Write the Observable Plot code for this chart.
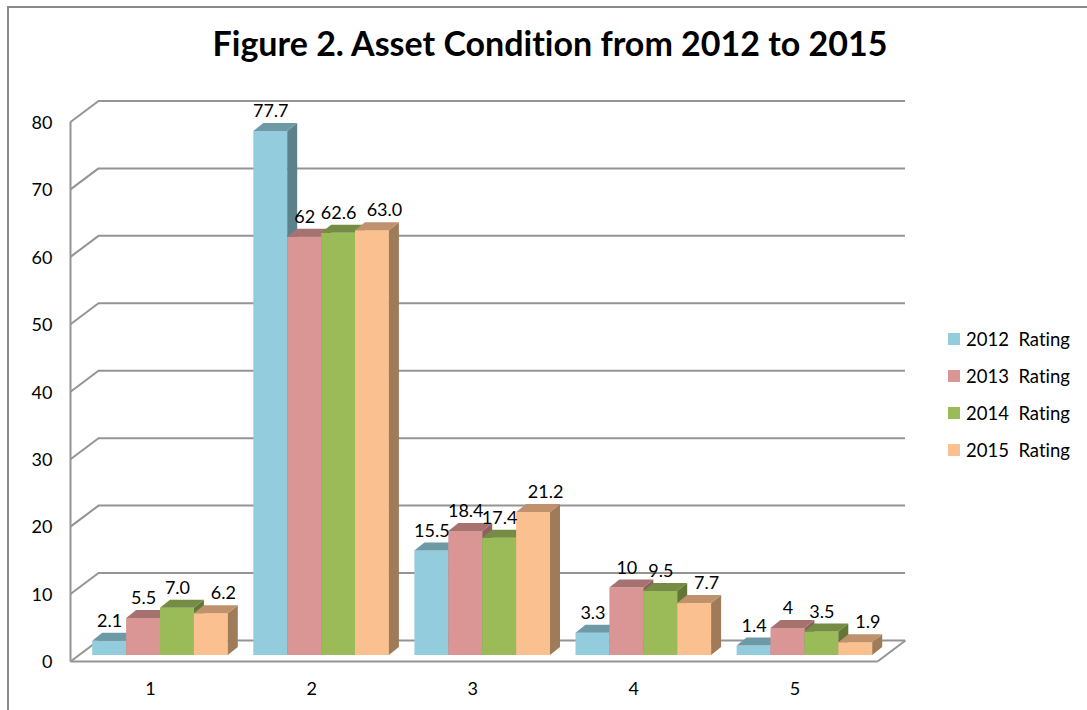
<!DOCTYPE html>
<html>
<head>
<meta charset="utf-8">
<script src="https://cdn.jsdelivr.net/npm/d3@7"></script>
<script src="https://cdn.jsdelivr.net/npm/@observablehq/plot@0.6"></script>
<style>
  html, body { margin: 0; padding: 0; background: #fff; }
  #wrap { position: relative; width: 1087px; height: 710px; overflow: hidden; font-family: Lato, "Open Sans", sans-serif; font-variant-ligatures: none; }
  #frame { position: absolute; left: 7px; top: 6px; width: 1100px; height: 720px; border-left: 2px solid #8a8a8a; border-top: 2px solid #8a8a8a; box-sizing: border-box; }
  #title { position: absolute; left: 13px; width: 1074px; top: 26px; line-height: 34px; text-align: center; font-weight: 700; font-size: 34px; color: #000; font-variant-ligatures: none; }
  #chart { position: absolute; left: 0; top: 80px; }
  #legend { position: absolute; left: 948px; top: 320px; font-size: 18.5px; color: #000; }
  .row { display: flex; align-items: center; height: 37px; white-space: pre; }
  .sw { width: 12px; height: 12px; margin-right: 6px; }
</style>
</head>
<body>
<div id="wrap">
  <div id="frame"></div>
  <div id="title">Figure 2. Asset Condition from 2012 to 2015</div>
  <div id="chart"></div>
  <div id="legend"></div>
</div>
<script>
// ---- data ----
const categories = [1, 2, 3, 4, 5];
const seriesNames = ["2012  Rating", "2013  Rating", "2014  Rating", "2015  Rating"];
const values2012 = [2.1, 77.7, 15.5, 3.3, 1.4];
const values2013 = [5.5, 62, 18.4, 10, 4];
const values2014 = [7.0, 62.6, 17.4, 9.5, 3.5];
const values2015 = [6.2, 63.0, 21.2, 7.7, 1.9];
const labels2012 = ["2.1", "77.7", "15.5", "3.3", "1.4"];
const labels2013 = ["5.5", "62", "18.4", "10", "4"];
const labels2014 = ["7.0", "62.6", "17.4", "9.5", "3.5"];
const labels2015 = ["6.2", "63.0", "21.2", "7.7", "1.9"];
const yTicks = [0, 10, 20, 30, 40, 50, 60, 70, 80];

// ---- styles ----
const frontColors = ["#93CDDD", "#D99694", "#9BBB59", "#FAC090"];
const topColors   = ["#6E9AA6", "#A6726F", "#748C43", "#BF926D"];
const sideColors  = ["#5D818B", "#8E615F", "#627638", "#A07B5A"];
const labelDx = [0, 0, 0, 12];

const seriesValues = [values2012, values2013, values2014, values2015];
const seriesLabels = [labels2012, labels2013, labels2014, labels2015];

// ---- layout (scale set-up) ----
const W = 1087, H = 630;
const kx = 161.1;           // px per category
const ky = 6.744;           // px per value unit
const xDomain = [1 - 160 / kx, 1 + (W - 160) / kx];
const yDomain = [-(H - 575) / ky, 575 / ky];
const barW = 33.9 / kx;
const bdx = 10 / kx, bdy = 8 / ky;           // bar depth
const wdx = 28 / kx, wdy = 21 / ky;          // wall depth
const frontDy = 6;                           // front axis plane offset (px)
const xFront = 1 - 90 / kx;
const xFloorRight = 1 + 717 / kx;
const xWallRight = 1 + 745 / kx;

const rows = [];
categories.forEach((c, i) => {
  seriesValues.forEach((vals, s) => {
    const x1 = c - 2 * barW + s * barW;
    rows.push({c, s, v: vals[i], label: seriesLabels[s][i], x1, x2: x1 + barW, id: `${c}-${s}`});
  });
});

const sidePts = rows.flatMap(d => [
  {s: d.s, id: d.id, x: d.x2, y1: 0, y2: d.v},
  {s: d.s, id: d.id, x: d.x2 + bdx, y1: bdy, y2: d.v + bdy}
]);
const topPts = rows.flatMap(d => [
  {s: d.s, id: d.id, x: d.x1, y1: d.v, y2: d.v},
  {s: d.s, id: d.id, x: d.x1 + bdx, y1: d.v, y2: d.v + bdy},
  {s: d.s, id: d.id, x: d.x2, y1: d.v, y2: d.v + bdy},
  {s: d.s, id: d.id, x: d.x2 + bdx, y1: d.v + bdy, y2: d.v + bdy}
]);

const gridColor = "#949494";
const marks = [
  // back wall gridlines
  Plot.ruleY(yTicks, {y: d => d + wdy, x1: xFront + wdx, x2: xWallRight, dy: frontDy, stroke: gridColor, strokeWidth: 2}),
  // diagonal connectors from front axis to wall
  Plot.link(yTicks, {x1: xFront, x2: xFront + wdx, y1: d => d, y2: d => d + wdy, dy: frontDy, stroke: gridColor, strokeWidth: 2}),
  // front vertical axis line
  Plot.link([0], {x1: xFront, x2: xFront, y1: 0, y2: 80, dy: frontDy, stroke: gridColor, strokeWidth: 2}),
  // floor front edge and right diagonal
  Plot.link([0], {x1: xFront, x2: xFloorRight, y1: 0, y2: 0, dy: frontDy, stroke: gridColor, strokeWidth: 2}),
  Plot.link([0], {x1: xFloorRight, x2: xFloorRight + wdx, y1: 0, y2: wdy, dy: frontDy, stroke: gridColor, strokeWidth: 2}),
  // y tick labels
  Plot.text(yTicks, {x: xFront, y: d => d, text: d => String(d), textAnchor: "end", dx: -18, dy: frontDy + 1, fill: "#000"}),
  // category labels
  Plot.text(categories, {x: d => d, y: 0, text: d => String(d), dx: -10, dy: 34, fill: "#000"})
];
seriesNames.forEach((name, s) => {
  const r = rows.filter(d => d.s === s);
  marks.push(
    Plot.rect(r, {x1: "x1", x2: "x2", y1: 0, y2: "v", fill: frontColors[s]}),
    Plot.areaY(sidePts.filter(d => d.s === s), {x: "x", y1: "y1", y2: "y2", z: "id", fill: sideColors[s]}),
    Plot.areaY(topPts.filter(d => d.s === s), {x: "x", y1: "y1", y2: "y2", z: "id", fill: topColors[s]})
  );
});
seriesNames.forEach((name, s) => {
  marks.push(
    Plot.text(rows.filter(d => d.s === s), {x: d => (d.x1 + d.x2) / 2, y: "v", text: "label", dy: -20, dx: labelDx[s], fill: "#000"})
  );
});

const chart = Plot.plot({
  width: W,
  height: H,
  margin: 0,
  x: {type: "linear", domain: xDomain, axis: null},
  y: {type: "linear", domain: yDomain, axis: null},
  style: {fontFamily: "Lato, 'Open Sans', sans-serif", fontSize: "18px", background: "transparent", overflow: "visible"},
  marks
});
document.getElementById("chart").appendChild(chart);

// legend
const legend = d3.select("#legend");
seriesNames.forEach((name, s) => {
  const row = legend.append("div").attr("class", "row");
  row.append("div").attr("class", "sw").style("background", frontColors[s]);
  row.append("span").text(name);
});
</script>
</body>
</html>
